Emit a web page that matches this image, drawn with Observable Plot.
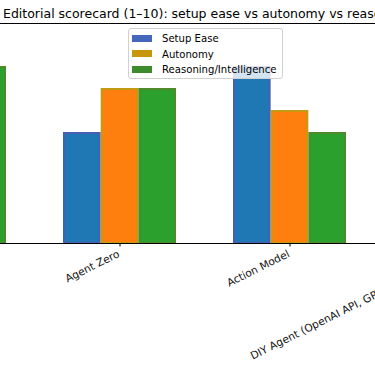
<!DOCTYPE html>
<html><head><meta charset="utf-8">
<script src="https://cdn.jsdelivr.net/npm/d3@7"></script>
<script src="https://cdn.jsdelivr.net/npm/@observablehq/plot@0.6"></script>
<style>
html,body{margin:0;padding:0;background:#fff;overflow:hidden;}
#wrap{position:relative;width:375px;height:366px;font-family:"DejaVu Sans",sans-serif;}
#title{position:absolute;left:3px;top:6px;font-size:12.5px;line-height:15px;white-space:nowrap;color:#000;}
#legend{position:absolute;left:128px;top:28px;width:153px;height:49px;border:1px solid #d0d0d0;border-radius:3px;background:rgba(255,255,255,0.8);font-size:10.1px;}
.row{position:absolute;left:3px;height:14px;line-height:14px;white-space:nowrap;}
.sw{display:inline-block;width:20px;height:7px;vertical-align:middle;margin-right:10px;position:relative;top:-1px;}
#chart{position:absolute;left:0;top:0;}
</style></head>
<body>
<div id="wrap">
<div id="chart"></div>
<div id="title"></div>
<div id="legend"></div>
</div>
<script>
const categories = ["Open Interpreter", "Agent Zero", "Action Model", "DIY Agent (OpenAI API, GPT-4 + LangChain)"];
const seriesNames = ["Setup Ease", "Autonomy", "Reasoning/Intelligence"];
const setupEase = [6, 5, 8, 3];
const autonomy = [7, 7, 6, 8];
const reasoning = [8, 7, 5, 9];
const fills = ["#1f77b4", "#ff7f0e", "#2ca02c"];
const edges = ["#4a5cb4", "#c39a12", "#4e8a2c"];
const legendColors = ["#4466bb", "#c8960a", "#3d8b2d"];
const titleText = "Editorial scorecard (1–10): setup ease vs autonomy vs reasoning";

const values = [setupEase, autonomy, reasoning];
const tables = values.map((vals, s) => categories.map((c, i) => ({cat: c, series: seriesNames[s], value: vals[i]})));

const band = 113.05, third = band / 3;
const insets = [[0, 2 * third], [third, third], [2 * third, 0]];

const chart = Plot.plot({
  width: 375, height: 366,
  marginTop: 23, marginBottom: 123, marginLeft: 0, marginRight: 0,
  style: {fontFamily: "DejaVu Sans, sans-serif", background: "transparent"},
  x: {domain: categories, range: [-135, 545], paddingInner: 0.335, paddingOuter: 0.1675, align: 0.5},
  y: {domain: [0, 10], axis: null},
  marks: [
    ...tables.map((t, s) => Plot.barY(t, {
      x: "cat", y: "value", fill: fills[s], stroke: edges[s], strokeWidth: 2,
      insetLeft: insets[s][0] + 1, insetRight: insets[s][1] + 1
    })),
    Plot.ruleY([0, 10], {stroke: "#000", strokeWidth: 1.1}),
    Plot.axisX({ticks: categories, tickSize: 3.5, stroke: "#000", tickFormat: null, text: null, label: null}),
    Plot.axisX({tickRotate: -26.5, tickSize: 0, tickPadding: 6, dx: -3, fontSize: 10.6, label: null,
      textAnchor: "end", lineAnchor: "top", fill: "#111"})
  ]
});
document.getElementById("chart").appendChild(chart);
document.getElementById("title").textContent = titleText;

const leg = document.getElementById("legend");
seriesNames.forEach((n, i) => {
  const r = document.createElement("div");
  r.className = "row";
  r.style.top = (3 + i * 15.5) + "px";
  r.innerHTML = `<span class="sw" style="background:${legendColors[i]}"></span>${n}`;
  leg.appendChild(r);
});
</script>
</body></html>
